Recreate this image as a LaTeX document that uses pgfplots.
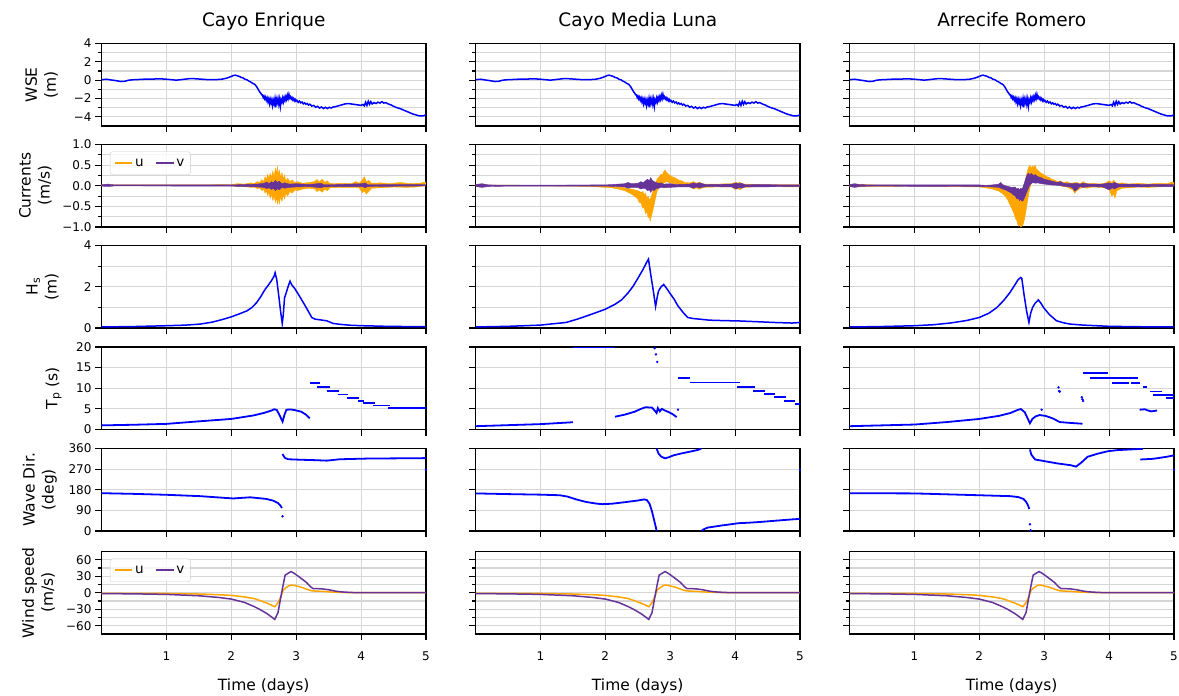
\documentclass[border=0pt]{standalone}
\usepackage{fontspec}
\setmainfont{DejaVu Sans}
\usepackage{pgfplots}
\usepackage{pgfplotstable}
\pgfplotsset{compat=1.18}

\definecolor{lineblue}{HTML}{0000FF}
\definecolor{uorange}{HTML}{FFA500}
\definecolor{vpurple}{HTML}{663399}
\definecolor{gridgray}{HTML}{D6D6D6}
\definecolor{framegray}{HTML}{CCCCCC}

\newcommand\ticksize{\fontsize{12}{14}\selectfont}
\newcommand\labsize{\fontsize{15.5}{19}\selectfont}
\newcommand\titsize{\fontsize{18.5}{22}\selectfont}
\newcommand\legsize{\fontsize{13.5}{15}\selectfont}

% water surface elevation (m), same record at the three sites
\pgfplotstableread{
t wse
0.00 0.05
0.08 0.10
0.15 0.02
0.22 -0.05
0.30 -0.15
0.36 -0.12
0.42 0.00
0.50 0.05
0.60 0.08
0.70 0.12
0.80 0.12
0.90 0.15
1.00 0.10
1.08 0.05
1.15 0.00
1.22 0.05
1.30 0.12
1.38 0.18
1.45 0.15
1.55 0.10
1.65 0.05
1.75 0.05
1.85 0.10
1.92 0.20
1.98 0.35
2.03 0.50
2.06 0.55
2.09 0.48
2.12 0.42
2.15 0.30
2.18 0.25
2.21 0.10
2.24 0.05
2.27 -0.10
2.30 -0.20
2.33 -0.35
2.36 -0.45
2.39 -0.70
2.41 -0.95
2.43 -1.20
2.45 -1.40
2.47 -1.60
2.480 -1.60
2.492 -1.90
2.504 -1.75
2.516 -2.05
2.528 -1.85
2.540 -2.20
2.552 -1.95
2.564 -2.35
2.576 -2.05
2.588 -2.55
2.600 -2.10
2.612 -2.50
2.624 -2.15
2.636 -2.75
2.648 -2.20
2.660 -2.55
2.672 -2.05
2.684 -2.95
2.696 -2.10
2.708 -2.45
2.720 -2.00
2.732 -2.60
2.744 -2.10
2.756 -2.85
2.768 -2.15
2.780 -2.40
2.792 -1.95
2.804 -2.35
2.816 -1.90
2.828 -2.20
2.840 -1.80
2.852 -2.10
2.864 -1.65
2.876 -2.00
2.888 -1.55
2.900 -1.95
2.912 -1.80
2.924 -2.05
2.936 -1.90
2.948 -2.15
2.960 -2.00
2.972 -2.25
2.984 -2.10
2.996 -2.30
3.010 -2.20
3.030 -2.42
3.050 -2.28
3.070 -2.48
3.090 -2.38
3.110 -2.58
3.130 -2.48
3.150 -2.62
3.170 -2.55
3.190 -2.72
3.210 -2.62
3.240 -2.82
3.270 -2.76
3.300 -2.95
3.330 -2.86
3.360 -3.05
3.390 -2.92
3.420 -3.10
3.450 -2.96
3.480 -3.10
3.510 -2.96
3.540 -3.04
3.570 -2.92
3.600 -2.90
3.650 -2.80
3.700 -2.70
3.750 -2.60
3.800 -2.55
3.850 -2.60
3.900 -2.65
3.950 -2.70
4.000 -2.75
4.030 -2.65
4.050 -2.80
4.070 -2.40
4.090 -2.75
4.110 -2.30
4.130 -2.65
4.150 -2.35
4.170 -2.60
4.200 -2.45
4.230 -2.55
4.260 -2.40
4.290 -2.50
4.320 -2.35
4.350 -2.50
4.380 -2.45
4.420 -2.60
4.460 -2.70
4.500 -2.85
4.550 -3.00
4.600 -3.10
4.650 -3.25
4.700 -3.40
4.750 -3.55
4.800 -3.70
4.850 -3.80
4.900 -3.90
4.950 -3.90
4.980 -3.85
5.000 -3.75
}\wsedata

% wind components (m/s)
\pgfplotstableread{
t u
0.00 -1.0
0.50 -1.1
1.00 -1.3
1.50 -2.3
1.80 -3.5
2.00 -4.8
2.20 -7.5
2.35 -10.5
2.45 -14.5
2.55 -19.0
2.62 -22.5
2.67 -25.5
2.72 -18.0
2.76 -8.0
2.80 5.0
2.84 9.0
2.90 13.5
2.94 14.0
3.00 12.5
3.08 10.0
3.16 6.5
3.24 3.5
3.30 3.0
3.40 2.5
3.55 1.3
3.70 0.6
3.90 0.1
4.20 0.0
5.00 0.0
}\windu
\pgfplotstableread{
t v
0.00 -1.5
0.50 -2.0
1.00 -3.0
1.50 -5.5
1.80 -8.5
2.00 -11.5
2.20 -17.5
2.35 -25.0
2.45 -31.0
2.55 -38.0
2.62 -44.0
2.67 -48.5
2.72 -36.0
2.76 -10.0
2.80 15.0
2.83 32.0
2.87 35.0
2.92 38.5
2.96 36.0
3.02 31.0
3.10 24.0
3.16 18.5
3.22 11.0
3.26 7.5
3.32 7.5
3.40 7.0
3.50 5.5
3.60 3.0
3.70 1.5
3.85 0.5
4.00 0.1
5.00 0.0
}\windv

\pgfplotsset{
  panel/.style={
    scale only axis, width=324.5pt, height=82.5pt,
    anchor=north west,
    xmin=0, xmax=5, xtick={1,2,3,4,5}, xticklabels={},
    tick align=outside, tick pos=left,
    major tick length=6.5pt, minor tick length=3.6pt,
    tick style={black, line width=1.1pt},
    grid=both,
    major grid style={gridgray, line width=1.1pt},
    minor grid style={gridgray, line width=1.1pt},
    axis line style={black, line width=1.1pt},
    tick label style={font=\ticksize},
    xticklabel style={yshift=-8pt},
    label style={font=\labsize},
    title style={font=\titsize, at={(0.5,1)}, anchor=base, yshift=11pt},
    unbounded coords=jump,
  },
  ylab/.style={ylabel style={align=center, inner sep=0pt,
    at={(axis description cs:#1,0.5)}, anchor=south}},
  bottomrow/.style={xticklabels={1,2,3,4,5}, xlabel={Time (days)},
    xlabel style={at={(0.5,0)}, anchor=base, yshift=-56.5pt}},
  rwse/.style={ymin=-5, ymax=4, ytick={-4,-2,0,2,4}, minor ytick={-3,-1,1,3}},
  rcur/.style={ymin=-1, ymax=1, ytick={-1,-0.5,0,0.5,1}, minor ytick={-0.75,-0.25,0.25,0.75}},
  rhs/.style={ymin=0, ymax=4, ytick={0,2,4}, minor ytick={1,3}},
  rtp/.style={ymin=0, ymax=20, ytick={0,5,10,15,20}},
  rdir/.style={ymin=0, ymax=360, ytick={0,90,180,270,360}},
  rwind/.style={ymin=-75, ymax=75, ytick={-60,-30,0,30,60}, minor ytick={-45,-15,15,45}},
  noylab/.style={yticklabels={}},
  blueline/.style={lineblue, line width=1.5pt},
  bluetrace/.style={lineblue, line width=1.8pt},
  bluedots/.style={lineblue, only marks, mark=*, mark size=1pt},
  uband/.style={fill=uorange, draw=uorange, line width=0.4pt, forget plot},
  vband/.style={fill=vpurple, draw=vpurple, line width=0.4pt, forget plot},
  uvlegend/.style={legend columns=2,
    legend image post style={line width=1.8pt},
    legend style={at={(0.026,0.915)}, anchor=north west, draw=framegray,
      fill=white, fill opacity=0.8, text opacity=1,
      rounded corners=2.5pt, font=\legsize, inner xsep=4pt, inner ysep=5pt,
      /tikz/every even column/.append style={column sep=10pt}}},
}

\begin{document}
\begin{tikzpicture}
\path[use as bounding box] (0pt,0pt) rectangle (1179pt,696pt);

% ---------------- row 1: water surface elevation ----------------
\begin{axis}[panel, rwse, ylab=-0.134, at={(101.5pt,652.5pt)}, title={Cayo Enrique},
  yticklabels={−4,−2,0,2,4}, ylabel={WSE\\(m)}]
\addplot[blueline] table[x=t, y=wse] {\wsedata};
\end{axis}
\begin{axis}[panel, rwse, noylab, at={(475.5pt,652.5pt)}, title={Cayo Media Luna}]
\addplot[blueline] table[x=t, y=wse] {\wsedata};
\end{axis}
\begin{axis}[panel, rwse, noylab, at={(849.5pt,652.5pt)}, title={Arrecife Romero}]
\addplot[blueline] table[x=t, y=wse] {\wsedata};
\end{axis}

% ---------------- row 2: currents ----------------
\begin{axis}[panel, rcur, uvlegend, ylab=-0.153, at={(101.5pt,551.5pt)},
  yticklabels={−1.0,−0.5,0.0,0.5,1.0}, ylabel={Currents\\(m/s)}]
\addplot[uband] coordinates {(0,0.02) (1.5,0.02) (2.0,0.03) (2.1,0.05) (2.2,0.04) (2.3,0.07) (2.35,0.05) (2.4,0.1) (2.44,0.08) (2.47,0.15) (2.5,0.1) (2.52,0.22) (2.54,0.14) (2.56,0.28) (2.58,0.18) (2.6,0.3) (2.62,0.2) (2.64,0.36) (2.66,0.22) (2.68,0.42) (2.7,0.3) (2.71,0.48) (2.72,0.26) (2.74,0.38) (2.76,0.2) (2.78,0.32) (2.8,0.16) (2.82,0.26) (2.84,0.12) (2.87,0.18) (2.9,0.1) (2.94,0.14) (2.98,0.07) (3.02,0.1) (3.1,0.06) (3.2,0.08) (3.28,0.1) (3.32,0.15) (3.36,0.09) (3.4,0.16) (3.44,0.08) (3.48,0.12) (3.52,0.05) (3.7,0.06) (3.85,0.05) (3.92,0.1) (3.97,0.06) (4.02,0.14) (4.05,0.22) (4.08,0.1) (4.12,0.13) (4.16,0.06) (4.3,0.07) (4.45,0.05) (4.6,0.08) (4.75,0.05) (4.9,0.06) (5.0,0.09)
 (5.0,0.0) (4.85,-0.03) (4.7,-0.04) (4.5,-0.03) (4.3,-0.05) (4.16,-0.06) (4.12,-0.14) (4.08,-0.2) (4.05,-0.12) (4.02,-0.17) (3.97,-0.05) (3.9,-0.04) (3.7,-0.04) (3.52,-0.05) (3.48,-0.12) (3.44,-0.08) (3.4,-0.16) (3.36,-0.1) (3.32,-0.14) (3.28,-0.07) (3.2,-0.06) (3.1,-0.08) (3.02,-0.12) (2.98,-0.1) (2.94,-0.18) (2.9,-0.14) (2.87,-0.25) (2.84,-0.18) (2.82,-0.32) (2.8,-0.22) (2.78,-0.38) (2.76,-0.26) (2.74,-0.44) (2.72,-0.3) (2.71,-0.46) (2.7,-0.28) (2.68,-0.4) (2.66,-0.24) (2.64,-0.36) (2.62,-0.2) (2.6,-0.3) (2.58,-0.16) (2.56,-0.24) (2.54,-0.12) (2.52,-0.18) (2.5,-0.08) (2.47,-0.12) (2.44,-0.05) (2.4,-0.07) (2.35,-0.03) (2.3,-0.04) (2.2,-0.02) (2.1,-0.02) (2.0,0.0) (1.5,0.005) (0,0.005)};
\addplot[vband] coordinates {(0,0.025) (0.1,0.04) (0.2,0.02) (2.0,0.02) (2.2,0.03) (2.4,0.04) (2.5,0.06) (2.55,0.09) (2.58,0.05) (2.62,0.1) (2.65,0.07) (2.68,0.13) (2.71,0.08) (2.74,0.11) (2.78,0.05) (2.82,0.07) (2.9,0.04) (3.0,0.05) (3.2,0.03) (3.38,0.06) (3.42,0.03) (3.6,0.03) (4.02,0.05) (4.06,0.07) (4.1,0.03) (5.0,0.025)
 (5.0,-0.005) (4.1,-0.02) (4.06,-0.05) (4.02,-0.02) (3.6,-0.02) (3.42,-0.03) (3.38,-0.05) (3.2,-0.02) (3.0,-0.03) (2.9,-0.04) (2.82,-0.06) (2.78,-0.04) (2.74,-0.1) (2.71,-0.07) (2.68,-0.12) (2.65,-0.06) (2.62,-0.09) (2.58,-0.05) (2.55,-0.07) (2.5,-0.04) (2.4,-0.03) (2.2,-0.02) (2.0,-0.01) (0.2,-0.005) (0.1,-0.02) (0,-0.01)};
\addlegendimage{uorange, line width=1.8pt}
\addlegendentry{u}
\addlegendimage{vpurple, line width=1.8pt}
\addlegendentry{v}
\end{axis}
\begin{axis}[panel, rcur, noylab, at={(475.5pt,551.5pt)}]
\addplot[uband] coordinates {(0,0.02) (1.0,0.01) (1.5,0.0) (1.8,-0.005) (2.0,-0.01) (2.2,-0.03) (2.3,-0.05) (2.4,-0.08) (2.45,-0.1) (2.5,-0.12) (2.55,-0.16) (2.58,-0.14) (2.6,-0.22) (2.62,-0.18) (2.64,-0.3) (2.66,-0.25) (2.68,-0.35) (2.7,-0.3) (2.72,-0.2) (2.74,-0.1) (2.76,0.02) (2.78,0.1) (2.8,0.16) (2.83,0.22) (2.86,0.28) (2.88,0.26) (2.9,0.34) (2.92,0.38) (2.94,0.33) (2.96,0.3) (2.98,0.27) (3.0,0.25) (3.03,0.22) (3.06,0.2) (3.1,0.17) (3.14,0.13) (3.18,0.12) (3.22,0.08) (3.3,0.07) (3.36,0.1) (3.4,0.06) (3.45,0.09) (3.5,0.04) (3.7,0.04) (3.95,0.05) (4.0,0.08) (4.04,0.06) (4.07,0.09) (4.12,0.04) (4.4,0.03) (5.0,0.03)
 (5.0,-0.03) (4.4,-0.02) (4.12,-0.04) (4.07,-0.1) (4.04,-0.06) (4.0,-0.09) (3.95,-0.03) (3.7,-0.03) (3.5,-0.04) (3.45,-0.09) (3.4,-0.05) (3.36,-0.08) (3.3,-0.02) (3.22,0.0) (3.18,0.02) (3.1,0.04) (3.03,0.06) (2.98,0.08) (2.94,0.1) (2.9,0.06) (2.86,0.02) (2.83,-0.05) (2.8,-0.12) (2.78,-0.25) (2.76,-0.4) (2.74,-0.55) (2.72,-0.68) (2.7,-0.8) (2.69,-0.86) (2.68,-0.72) (2.66,-0.78) (2.64,-0.62) (2.62,-0.68) (2.6,-0.52) (2.58,-0.55) (2.55,-0.42) (2.52,-0.4) (2.5,-0.32) (2.47,-0.28) (2.44,-0.24) (2.4,-0.2) (2.35,-0.16) (2.3,-0.12) (2.2,-0.08) (2.1,-0.05) (2.0,-0.04) (1.8,-0.02) (1.5,-0.01) (1.0,-0.005) (0,0.0)};
\addplot[vband] coordinates {(0,0.03) (0.1,0.05) (0.2,0.02) (0.5,0.015) (2.0,0.02) (2.2,0.04) (2.3,0.05) (2.35,0.08) (2.4,0.05) (2.5,0.06) (2.55,0.1) (2.58,0.07) (2.62,0.12) (2.65,0.16) (2.68,0.12) (2.7,0.2) (2.72,0.14) (2.75,0.1) (2.78,0.08) (2.82,0.06) (2.86,0.07) (2.9,0.04) (3.0,0.05) (3.1,0.03) (3.3,0.04) (3.36,0.07) (3.4,0.05) (3.45,0.07) (3.55,0.03) (3.95,0.04) (4.02,0.07) (4.06,0.05) (4.1,0.06) (4.15,0.03) (5.0,0.02)
 (5.0,-0.02) (4.15,-0.03) (4.1,-0.06) (4.06,-0.04) (4.02,-0.08) (3.95,-0.03) (3.55,-0.02) (3.45,-0.05) (3.4,-0.03) (3.36,-0.06) (3.3,-0.03) (3.1,-0.03) (3.0,-0.04) (2.9,-0.05) (2.86,-0.04) (2.82,-0.06) (2.78,-0.07) (2.75,-0.12) (2.72,-0.1) (2.7,-0.16) (2.68,-0.1) (2.65,-0.12) (2.62,-0.07) (2.58,-0.06) (2.55,-0.08) (2.5,-0.04) (2.4,-0.04) (2.35,-0.06) (2.3,-0.03) (2.2,-0.02) (2.0,-0.01) (0.5,-0.01) (0.2,-0.02) (0.1,-0.04) (0,-0.02)};
\end{axis}
\begin{axis}[panel, rcur, noylab, at={(849.5pt,551.5pt)}]
\addplot[uband] coordinates {(0,0.02) (0.1,0.04) (0.3,0.02) (1.0,0.01) (2.0,0.0) (2.1,-0.01) (2.2,-0.02) (2.3,-0.04) (2.35,-0.06) (2.4,-0.08) (2.45,-0.12) (2.5,-0.15) (2.53,-0.2) (2.56,-0.18) (2.58,-0.25) (2.6,-0.3) (2.62,-0.26) (2.64,-0.32) (2.66,-0.24) (2.68,-0.15) (2.7,0.0) (2.72,0.2) (2.74,0.35) (2.76,0.45) (2.78,0.5) (2.8,0.42) (2.82,0.48) (2.84,0.44) (2.86,0.5) (2.88,0.4) (2.9,0.38) (2.93,0.33) (2.96,0.3) (3.0,0.26) (3.04,0.22) (3.08,0.2) (3.12,0.15) (3.16,0.14) (3.2,0.1) (3.25,0.12) (3.3,0.07) (3.35,0.1) (3.4,0.06) (3.5,0.08) (3.55,0.05) (3.6,0.1) (3.65,0.05) (3.75,0.06) (3.85,0.04) (3.95,0.07) (4.0,0.12) (4.04,0.08) (4.07,0.13) (4.12,0.05) (4.2,0.07) (4.3,0.04) (4.45,0.06) (4.6,0.04) (4.75,0.06) (4.9,0.05) (4.97,0.09) (5.0,0.08)
 (5.0,-0.01) (4.9,-0.02) (4.75,-0.03) (4.6,-0.04) (4.45,-0.03) (4.3,-0.05) (4.2,-0.06) (4.12,-0.12) (4.09,-0.3) (4.07,-0.2) (4.04,-0.25) (4.0,-0.08) (3.95,-0.05) (3.85,-0.04) (3.75,-0.03) (3.65,-0.06) (3.6,-0.03) (3.55,-0.07) (3.5,-0.12) (3.47,-0.18) (3.44,-0.1) (3.4,-0.07) (3.35,-0.03) (3.3,-0.02) (3.25,0.0) (3.2,0.02) (3.12,0.03) (3.05,0.05) (3.0,0.06) (2.95,0.08) (2.9,0.1) (2.85,0.12) (2.82,0.1) (2.8,0.05) (2.78,-0.05) (2.76,-0.2) (2.74,-0.4) (2.72,-0.6) (2.7,-0.78) (2.68,-0.92) (2.66,-0.98) (2.64,-1.0) (2.62,-0.95) (2.6,-0.98) (2.58,-0.85) (2.56,-0.8) (2.54,-0.7) (2.52,-0.62) (2.5,-0.55) (2.47,-0.45) (2.44,-0.35) (2.4,-0.25) (2.35,-0.18) (2.3,-0.13) (2.2,-0.08) (2.1,-0.05) (2.0,-0.03) (1.0,-0.01) (0.3,-0.02) (0.1,-0.03) (0,-0.02)};
\addplot[vband] coordinates {(0,0.03) (0.08,0.05) (0.15,0.03) (0.3,0.02) (2.0,0.02) (2.1,0.01) (2.2,0.02) (2.3,0.04) (2.33,0.08) (2.36,0.03) (2.4,0.0) (2.45,-0.02) (2.5,-0.04) (2.55,-0.03) (2.58,-0.08) (2.6,-0.06) (2.62,-0.1) (2.64,-0.06) (2.66,-0.08) (2.68,0.0) (2.7,0.1) (2.72,0.2) (2.74,0.28) (2.76,0.3) (2.78,0.26) (2.8,0.3) (2.83,0.25) (2.86,0.27) (2.9,0.22) (2.95,0.2) (3.0,0.16) (3.05,0.14) (3.1,0.12) (3.15,0.1) (3.2,0.08) (3.25,0.1) (3.3,0.06) (3.4,0.05) (3.5,0.06) (3.55,0.04) (3.6,0.06) (3.7,0.04) (3.9,0.04) (4.0,0.07) (4.05,0.05) (4.08,0.08) (4.15,0.04) (5.0,0.03)
 (5.0,-0.02) (4.15,-0.03) (4.08,-0.08) (4.05,-0.05) (4.0,-0.1) (3.9,-0.03) (3.7,-0.02) (3.6,-0.04) (3.55,-0.02) (3.5,-0.1) (3.47,-0.13) (3.44,-0.06) (3.4,-0.03) (3.3,-0.01) (3.25,0.0) (3.2,0.01) (3.1,0.02) (3.0,0.04) (2.95,0.05) (2.9,0.07) (2.86,0.06) (2.83,0.08) (2.8,0.05) (2.78,0.02) (2.76,-0.05) (2.74,-0.12) (2.72,-0.2) (2.7,-0.28) (2.68,-0.35) (2.66,-0.38) (2.64,-0.33) (2.62,-0.36) (2.6,-0.3) (2.58,-0.32) (2.55,-0.24) (2.52,-0.22) (2.5,-0.18) (2.45,-0.14) (2.4,-0.1) (2.36,-0.08) (2.33,-0.06) (2.3,-0.04) (2.2,-0.03) (2.1,-0.02) (2.0,-0.02) (0.3,-0.01) (0.15,-0.02) (0.08,-0.04) (0,-0.02)};
\end{axis}

% ---------------- row 3: significant wave height ----------------
\begin{axis}[panel, rhs, ylab=-0.131, at={(101.5pt,450.5pt)},
  yticklabels={0,2,4}, ylabel={H\textsubscript{s}\\(m)}]
\addplot[blueline] coordinates {(0.00,0.05) (0.50,0.07) (1.00,0.11) (1.30,0.14) (1.52,0.19) (1.70,0.28) (1.85,0.40) (2.00,0.54) (2.12,0.68) (2.24,0.83) (2.32,1.00) (2.39,1.23) (2.45,1.50) (2.52,1.87) (2.58,2.12) (2.62,2.30) (2.66,2.52) (2.675,2.68) (2.70,2.35) (2.73,1.60) (2.76,0.80) (2.785,0.22) (2.80,0.60) (2.82,1.45) (2.85,1.75) (2.88,2.05) (2.905,2.27) (2.93,2.10) (2.98,1.90) (3.04,1.60) (3.11,1.23) (3.18,0.85) (3.24,0.51) (3.29,0.43) (3.40,0.38) (3.47,0.35) (3.57,0.22) (3.70,0.17) (3.85,0.13) (4.03,0.11) (4.40,0.08) (5.00,0.06)};
\end{axis}
\begin{axis}[panel, rhs, noylab, at={(475.5pt,450.5pt)}]
\addplot[blueline] coordinates {(0.00,0.05) (0.50,0.08) (1.00,0.14) (1.40,0.27) (1.60,0.46) (1.80,0.68) (2.00,0.91) (2.15,1.15) (2.25,1.36) (2.35,1.70) (2.43,2.03) (2.50,2.40) (2.58,2.83) (2.64,3.20) (2.665,3.34) (2.70,2.60) (2.74,1.80) (2.775,1.04) (2.80,1.50) (2.82,1.79) (2.86,2.00) (2.90,2.11) (2.95,1.90) (2.99,1.71) (3.06,1.40) (3.12,1.07) (3.20,0.75) (3.27,0.51) (3.35,0.46) (3.45,0.43) (3.60,0.38) (3.80,0.36) (4.07,0.34) (4.30,0.31) (4.58,0.27) (4.88,0.24) (4.97,0.26) (5.00,0.27)};
\end{axis}
\begin{axis}[panel, rhs, noylab, at={(849.5pt,450.5pt)}]
\addplot[blueline] coordinates {(0.00,0.05) (0.50,0.07) (1.00,0.11) (1.30,0.16) (1.55,0.24) (1.80,0.36) (2.00,0.51) (2.15,0.72) (2.27,0.99) (2.38,1.35) (2.47,1.71) (2.55,2.10) (2.60,2.35) (2.64,2.45) (2.655,2.40) (2.69,1.60) (2.73,0.80) (2.765,0.27) (2.79,0.70) (2.82,0.99) (2.86,1.20) (2.91,1.36) (2.95,1.20) (2.99,0.99) (3.08,0.65) (3.19,0.35) (3.30,0.25) (3.40,0.19) (3.60,0.14) (4.01,0.08) (4.50,0.06) (5.00,0.05)};
\end{axis}

% ---------------- row 4: peak period ----------------
\begin{axis}[panel, rtp, ylab=-0.122, at={(101.5pt,349pt)},
  yticklabels={0,5,10,15,20}, ylabel={T\textsubscript{p} (s)}]
\addplot[bluetrace] coordinates {(0.00,1.0) (0.50,1.15) (1.00,1.36) (1.52,2.0) (2.00,2.56) (2.34,3.4) (2.50,4.0) (2.62,4.6) (2.66,4.9) (2.70,4.75) (2.74,3.6) (2.79,1.9) (2.82,3.6) (2.85,4.8) (2.92,4.85) (2.98,4.7) (3.08,4.3) (3.15,3.6) (3.21,2.7)};
\addplot[bluetrace] coordinates {(3.21,11.3) (3.36,11.3) (3.36,nan)
 (3.32,10.3) (3.52,10.3) (3.52,nan)
 (3.47,9.4) (3.66,9.4) (3.66,nan)
 (3.64,8.5) (3.80,8.5) (3.80,nan)
 (3.78,7.6) (3.97,7.6) (3.97,nan)
 (3.95,7.0) (4.05,7.0) (4.05,nan)
 (4.03,6.4) (4.22,6.4) (4.22,nan)
 (4.19,5.8) (4.45,5.8) (4.45,nan)
 (4.42,5.25) (5.00,5.25)};
\end{axis}
\begin{axis}[panel, rtp, noylab, at={(475.5pt,349pt)}]
\addplot[bluetrace] coordinates {(0.00,0.8) (0.50,1.05) (1.00,1.3) (1.50,1.76)};
\addplot[lineblue, line width=1pt] coordinates {(1.50,19.88) (2.15,19.88)};
\addplot[bluedots] coordinates {(2.76,19.7) (2.78,18.2) (2.80,16.4) (3.12,4.8)};
\addplot[bluetrace] coordinates {(2.15,3.1) (2.30,3.6) (2.45,4.3) (2.55,5.0) (2.62,5.4) (2.72,5.3) (2.76,4.6) (2.79,4.0) (2.81,5.2) (2.84,4.4) (2.87,5.0) (2.92,4.6) (2.98,4.2) (3.05,3.6) (3.10,3.0)};
\addplot[bluetrace] coordinates {(3.12,12.4) (3.30,12.4) (3.30,nan)
 (3.30,11.4) (4.07,11.4) (4.07,nan)
 (4.03,10.3) (4.30,10.3) (4.30,nan)
 (4.28,9.4) (4.46,9.4) (4.46,nan)
 (4.44,8.6) (4.61,8.6) (4.61,nan)
 (4.60,7.8) (4.78,7.8) (4.78,nan)
 (4.76,7.0) (4.93,7.0) (4.93,nan)
 (4.92,6.2) (5.00,6.2)};
\end{axis}
\begin{axis}[panel, rtp, noylab, at={(849.5pt,349pt)}]
\addplot[bluetrace] coordinates {(0.00,0.8) (0.50,1.0) (1.00,1.2) (1.50,1.8) (2.00,2.56) (2.30,3.3) (2.48,4.0) (2.60,4.8) (2.64,4.95) (2.70,4.2) (2.78,1.5) (2.82,2.6) (2.87,3.2) (2.93,3.5) (3.02,3.3) (3.13,2.7) (3.24,1.8) (3.40,1.6) (3.59,1.4)};
\addplot[bluedots] coordinates {(2.96,4.8) (3.22,10.2) (3.23,9.3) (3.24,9.2) (3.58,7.8) (3.59,7.3) (3.60,6.9)};
\addplot[bluetrace] coordinates {(3.60,13.7) (3.98,13.7) (3.98,nan)
 (3.71,12.4) (4.45,12.4) (4.45,nan)
 (4.05,11.3) (4.30,11.3) (4.30,nan)
 (4.34,11.3) (4.48,11.3) (4.48,nan)
 (4.52,10.3) (4.58,10.3) (4.58,nan)
 (4.63,9.2) (4.81,9.2) (4.81,nan)
 (4.68,8.4) (5.00,8.4) (5.00,nan)
 (4.88,7.6) (5.00,7.6)};
\addplot[bluetrace] coordinates {(4.47,4.8) (4.55,4.9) (4.60,4.6) (4.65,4.4) (4.70,4.5) (4.74,4.6)};
\end{axis}

% ---------------- row 5: mean wave direction ----------------
\begin{axis}[panel, rdir, ylab=-0.137, at={(101.5pt,247.5pt)},
  yticklabels={0,90,180,270,360}, ylabel={Wave Dir.\\(deg)}]
\addplot[bluetrace] coordinates {(0.00,165) (0.50,162) (1.00,158) (1.52,152) (2.03,142) (2.29,147) (2.54,140) (2.65,132) (2.72,122) (2.76,110) (2.78,100)};
\addplot[bluetrace] coordinates {(2.79,336) (2.80,330) (2.83,318) (2.88,313) (3.06,311) (3.30,309) (3.47,307) (3.67,313) (4.09,316) (5.00,318)};
\addplot[bluedots] coordinates {(2.79,64) (5.0,268)};
\end{axis}
\begin{axis}[panel, rdir, noylab, at={(475.5pt,247.5pt)}]
\addplot[bluetrace] coordinates {(0.00,164) (0.50,161) (1.00,158.6) (1.30,156) (1.42,150) (1.55,138) (1.70,127) (1.85,120) (1.95,117) (2.10,119) (2.31,126) (2.50,133) (2.60,138) (2.64,135) (2.68,120) (2.72,85) (2.75,50) (2.78,15) (2.79,0)};
\addplot[bluetrace] coordinates {(2.79,360) (2.82,338) (2.86,325) (2.92,317) (2.98,322) (3.05,330) (3.15,337) (3.25,343) (3.35,349) (3.43,354) (3.48,360)};
\addplot[bluetrace] coordinates {(3.48,0) (3.52,8) (3.58,15) (3.70,20) (3.79,24) (3.90,28) (4.05,34) (4.20,36) (4.36,39) (4.50,42) (4.67,46) (4.85,50) (5.00,53)};
\addplot[bluedots] coordinates {(5.0,267)};
\end{axis}
\begin{axis}[panel, rdir, noylab, at={(849.5pt,247.5pt)}]
\addplot[bluetrace] coordinates {(0.00,165) (1.00,164) (2.00,156) (2.48,152) (2.60,148) (2.68,140) (2.72,128) (2.75,112) (2.77,96)};
\addplot[bluedots] coordinates {(2.78,29) (2.79,3)};
\addplot[bluetrace] coordinates {(2.78,356) (2.80,334) (2.86,312) (3.00,305) (3.20,295) (3.41,287) (3.49,281) (3.57,298) (3.67,324) (3.82,337) (3.98,348) (4.13,353) (4.34,356) (4.52,358.5)};
\addplot[bluetrace] coordinates {(4.48,312) (4.68,315) (4.89,324) (5.00,330)};
\addplot[bluedots] coordinates {(5.0,268)};
\end{axis}

% ---------------- row 6: wind components ----------------
\begin{axis}[panel, rwind, bottomrow, uvlegend, ylab=-0.143, at={(101.5pt,144.5pt)},
  yticklabels={−60,−30,0,30,60}, ylabel={Wind speed\\(m/s)}]
\addplot[uorange, line width=1.5pt] table[x=t, y=u] {\windu};
\addlegendentry{u}
\addplot[vpurple, line width=1.5pt] table[x=t, y=v] {\windv};
\addlegendentry{v}
\end{axis}
\begin{axis}[panel, rwind, bottomrow, noylab, at={(475.5pt,144.5pt)}]
\addplot[uorange, line width=1.5pt] table[x=t, y=u] {\windu};
\addplot[vpurple, line width=1.5pt] table[x=t, y=v] {\windv};
\end{axis}
\begin{axis}[panel, rwind, bottomrow, noylab, at={(849.5pt,144.5pt)}]
\addplot[uorange, line width=1.5pt] table[x=t, y=u] {\windu};
\addplot[vpurple, line width=1.5pt] table[x=t, y=v] {\windv};
\end{axis}
\end{tikzpicture}
\end{document}
